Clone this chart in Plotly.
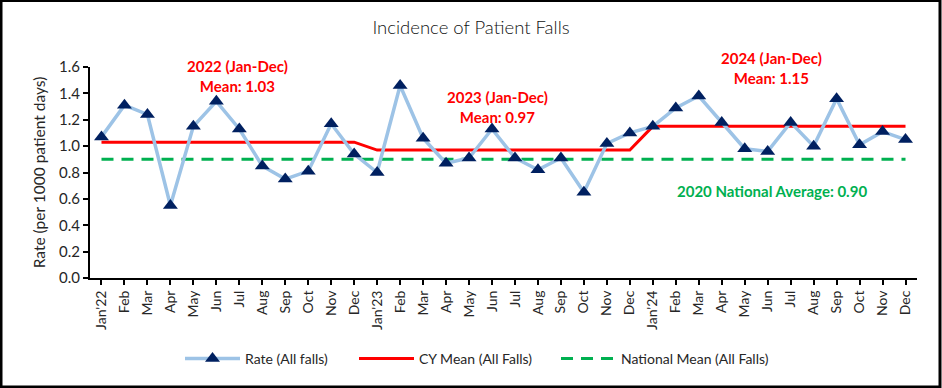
import plotly.graph_objects as go

month_labels = ["Jan'22", "Feb", "Mar", "Apr", "May", "Jun", "Jul", "Aug", "Sep", "Oct", "Nov", "Dec",
                "Jan'23", "Feb", "Mar", "Apr", "May", "Jun", "Jul", "Aug", "Sep", "Oct", "Nov", "Dec",
                "Jan'24", "Feb", "Mar", "Apr", "May", "Jun", "Jul", "Aug", "Sep", "Oct", "Nov", "Dec"]
rate_2022 = [1.07, 1.31, 1.24, 0.55, 1.15, 1.34, 1.13, 0.85, 0.75, 0.81, 1.17, 0.94]
rate_2023 = [0.80, 1.46, 1.06, 0.87, 0.91, 1.13, 0.91, 0.82, 0.91, 0.65, 1.02, 1.10]
rate_2024 = [1.15, 1.29, 1.38, 1.18, 0.98, 0.96, 1.18, 1.00, 1.36, 1.01, 1.11, 1.05]
year_means = [1.03, 0.97, 1.15]
national_mean = 0.90
y_ticks = [0.0, 0.2, 0.4, 0.6, 0.8, 1.0, 1.2, 1.4, 1.6]

rate = rate_2022 + rate_2023 + rate_2024
cy_mean = [year_means[0]] * 12 + [year_means[1]] * 12 + [year_means[2]] * 12
nat = [national_mean] * len(rate)
xs = list(range(len(rate)))

FONT = "Lato"
TXT = "#262626"
W, H = 942, 388
L, R, T, B = 90, 25, 67, 110
PW, PH = W - L - R, H - T - B


def px_x(p):
    return (p - L) / PW


def px_y(p):
    return (H - B - p) / PH


fig = go.Figure()
fig.add_trace(go.Scatter(x=xs, y=nat, mode="lines", name="National Mean (All Falls)",
                         line=dict(color="#00B050", width=3, dash="12px,8px"), legend="legend3"))
fig.add_trace(go.Scatter(x=xs, y=cy_mean, mode="lines", name="CY Mean (All Falls)",
                         line=dict(color="#FF0000", width=3), legend="legend2"))
fig.add_trace(go.Scatter(x=xs, y=rate, mode="lines+markers", name="Rate (All falls)",
                         line=dict(color="#9DC3E6", width=3.5),
                         marker=dict(symbol="triangle-up", size=13, color="#002060"),
                         legend="legend"))

red_font = dict(family=FONT, size=15, color="#FF0000", weight="bold")
fig.add_annotation(x=5.9, y=1.535, text="2022 (Jan-Dec)<br>Mean: 1.03", showarrow=False, font=red_font)
fig.add_annotation(x=17.26, y=1.30, text="2023 (Jan-Dec)<br>Mean: 0.97", showarrow=False, font=red_font)
fig.add_annotation(x=29.17, y=1.59, text="2024 (Jan-Dec)<br>Mean: 1.15", showarrow=False, font=red_font)
fig.add_annotation(x=29.17, y=0.657, text="2020 National Average: 0.90", showarrow=False,
                   font=dict(family=FONT, size=15, color="#00B050", weight="bold"))

fig.add_shape(type="rect", xref="paper", yref="paper",
              x0=px_x(1), x1=px_x(940), y0=px_y(387), y1=px_y(0.5),
              line=dict(color="black", width=3), layer="above")

leg = dict(orientation="h", xanchor="left", yanchor="middle", xref="paper", yref="paper",
           font=dict(family=FONT, size=14, color=TXT), bgcolor="rgba(0,0,0,0)", itemwidth=55,
           tracegroupgap=0)
fig.update_layout(
    width=W, height=H,
    margin=dict(l=L, r=R, t=T, b=B),
    paper_bgcolor="white", plot_bgcolor="white",
    title=dict(text="Incidence of Patient Falls", x=0.5, xref="container", y=1 - 28 / H, yref="container",
               xanchor="center", yanchor="middle",
               font=dict(family=FONT, size=18.5, color="#111111", weight=300)),
    xaxis=dict(range=[-0.5, len(rate) - 0.5], tickvals=xs, ticktext=month_labels, tickangle=-90,
               showgrid=False, zeroline=False, showline=True, linecolor="black", linewidth=2,
               ticks="outside", ticklen=5, tickcolor="black", tickwidth=1.5,
               tickfont=dict(family=FONT, size=14, color=TXT)),
    yaxis=dict(range=[0, 1.6], tickvals=y_ticks, tickformat=".1f", showgrid=False, zeroline=False,
               showline=True, linecolor="black", linewidth=2, ticks="outside", ticklen=5,
               tickcolor="black", tickwidth=1.5,
               tickfont=dict(family=FONT, size=15, color=TXT),
               title=dict(text="Rate (per 1000 patient days)", standoff=10,
                          font=dict(family=FONT, size=15.5, color=TXT))),
    legend=dict(leg, x=px_x(180), y=px_y(359)),
    legend2=dict(leg, x=px_x(354), y=px_y(359)),
    legend3=dict(leg, x=px_x(556), y=px_y(359)),
    showlegend=True,
)

fig.write_html("out.html", config={"displayModeBar": False},
               post_script="document.body.style.margin='0';document.body.style.overflow='hidden';")
